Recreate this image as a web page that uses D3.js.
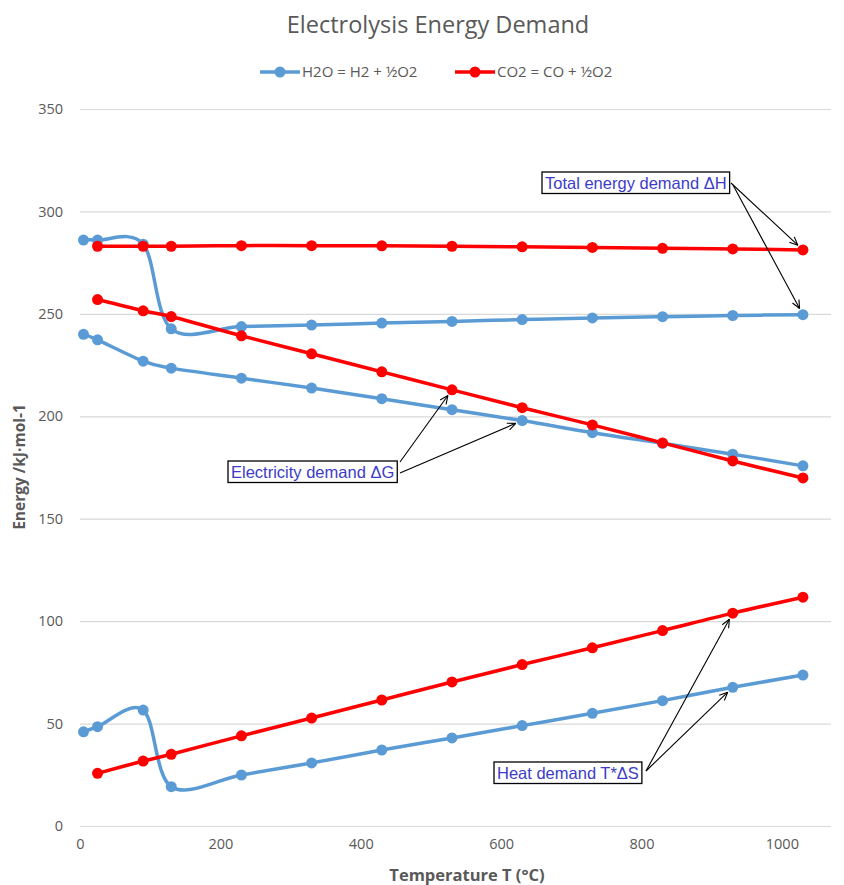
<!DOCTYPE html>
<html>
<head>
<meta charset="utf-8">
<script src="https://cdn.jsdelivr.net/npm/d3@7"></script>
<style>
  body { margin: 0; background: #fff; }
  svg { display: block; }
</style>
</head>
<body>
<svg id="chart" width="844" height="885"></svg>
<script>
// Temperatures (°C) at which each reaction was evaluated
const h2oTemp = [5, 25, 90, 130, 230, 330, 430, 530, 630, 730, 830, 930, 1030];
const co2Temp = [25, 90, 130, 230, 330, 430, 530, 630, 730, 830, 930, 1030];

// H2O = H2 + ½O2 (kJ/mol)
const h2oDH  = [286, 286, 284, 242.7, 243.8, 244.5, 245.5, 246.3, 247.2, 248, 248.6, 249.2, 249.6];
const h2oDG  = [240, 237.3, 226.9, 223.5, 218.6, 213.8, 208.6, 203.2, 197.9, 192, 186.8, 181.5, 175.8];
const h2oTdS = [46, 48.5, 56.6, 19.2, 24.9, 30.8, 37.1, 43, 49, 55, 61.2, 67.7, 73.7];

// CO2 = CO + ½O2 (kJ/mol)
const co2DH  = [283, 283, 283, 283.3, 283.3, 283.2, 283, 282.7, 282.4, 282, 281.7, 281.2];
const co2DG  = [257, 251.5, 248.7, 239.3, 230.5, 221.7, 212.9, 204.2, 195.8, 187, 178.2, 169.9];
const co2TdS = [25.7, 31.7, 35, 44, 52.7, 61.5, 70.3, 78.8, 87, 95.4, 103.9, 111.7];

const xTicks = [0, 200, 400, 600, 800, 1000];
const yTicks = [0, 50, 100, 150, 200, 250, 300, 350];

const seriesNames = ["H2O = H2 + ½O2", "CO2 = CO + ½O2"];
const seriesColors = ["#5b9bd5", "#ff0000"];

const svg = d3.select("#chart");
const W = 844, H = 885;
const plot = { left: 80, right: 831, top: 109, bottom: 826 };

svg.append("rect").attr("width", W).attr("height", H).attr("fill", "#fff");

const x = d3.scaleLinear().domain([0, 1070]).range([plot.left, plot.right]);
const y = d3.scaleLinear().domain([0, 350]).range([plot.bottom, plot.top]);

const axisFont = "'Open Sans', 'DejaVu Sans', sans-serif";
const grey = "#595959";

// Horizontal gridlines + y labels
const yAxis = d3.axisLeft(y).tickValues(yTicks).tickSize(-(plot.right - plot.left)).tickPadding(17);
const gy = svg.append("g").attr("transform", `translate(${plot.left},0)`).call(yAxis);
gy.select(".domain").remove();
gy.selectAll(".tick line").attr("stroke", "#d9d9d9").attr("stroke-width", 1.2);
gy.selectAll(".tick text").attr("fill", grey).attr("font-family", axisFont).attr("font-size", 14.5);

// X labels
const xAxis = d3.axisBottom(x).tickValues(xTicks).tickSize(0).tickPadding(13).tickFormat(d3.format("d"));
const gx = svg.append("g").attr("transform", `translate(0,${plot.bottom})`).call(xAxis);
gx.select(".domain").remove();
gx.selectAll(".tick text").attr("fill", grey).attr("font-family", axisFont).attr("font-size", 14.5);

// Title
svg.append("text").attr("x", 438).attr("y", 33).attr("text-anchor", "middle")
  .attr("font-family", axisFont).attr("font-size", 23.5).attr("fill", grey)
  .text("Electrolysis Energy Demand");

// Axis titles
svg.append("text").attr("x", 467).attr("y", 881).attr("text-anchor", "middle")
  .attr("font-family", axisFont).attr("font-size", 16.5).attr("font-weight", "bold").attr("fill", grey)
  .text("Temperature T (°C)");
svg.append("text").attr("transform", "translate(25,467) rotate(-90)").attr("text-anchor", "middle")
  .attr("font-family", axisFont).attr("font-size", 15.5).attr("font-weight", "bold").attr("fill", grey)
  .text("Energy /kJ·mol-1");

// Data series
const line = d3.line().x(d => x(d[0])).y(d => y(d[1])).curve(d3.curveCardinal.tension(0));
const groups = [
  { temps: h2oTemp, sets: [h2oDH, h2oDG, h2oTdS], color: seriesColors[0] },
  { temps: co2Temp, sets: [co2DH, co2DG, co2TdS], color: seriesColors[1] }
];
groups.forEach(g => {
  const layer = svg.append("g");
  g.sets.forEach(vals => {
    const pts = g.temps.map((t, i) => [t, vals[i]]);
    layer.append("path").attr("d", line(pts)).attr("fill", "none")
      .attr("stroke", g.color).attr("stroke-width", 3.5).attr("stroke-linejoin", "round");
    layer.selectAll(null).data(pts).enter().append("circle")
      .attr("cx", d => x(d[0])).attr("cy", d => y(d[1])).attr("r", 5.5).attr("fill", g.color);
  });
});

// Legend
const legend = svg.append("g");
const legendX = [260, 455];
seriesNames.forEach((name, i) => {
  const lx = legendX[i], ly = 72;
  legend.append("line").attr("x1", lx).attr("x2", lx + 40).attr("y1", ly).attr("y2", ly)
    .attr("stroke", seriesColors[i]).attr("stroke-width", 3.5);
  legend.append("circle").attr("cx", lx + 20).attr("cy", ly).attr("r", 5.5).attr("fill", seriesColors[i]);
  legend.append("text").attr("x", lx + 42).attr("y", ly + 5).attr("font-family", axisFont)
    .attr("font-size", 15).attr("fill", grey).text(name);
});

// Annotations: text boxes with arrows pointing at data markers
const annFont = "'Liberation Sans', Arial, sans-serif";
const annotations = [
  { text: "Total energy demand ΔH", box: [542, 172], targets: [
      { from: [731, 183], temps: co2Temp, vals: co2DH, i: 11 },
      { from: [733, 185], temps: h2oTemp, vals: h2oDH, i: 12 } ] },
  { text: "Electricity demand ΔG", box: [228, 461], targets: [
      { from: [400, 462], temps: co2Temp, vals: co2DG, i: 6 },
      { from: [400, 473], temps: h2oTemp, vals: h2oDG, i: 8 } ] },
  { text: "Heat demand T*ΔS", box: [494, 762], targets: [
      { from: [646, 771], temps: co2Temp, vals: co2TdS, i: 10 },
      { from: [646, 771], temps: h2oTemp, vals: h2oTdS, i: 11 } ] }
];

annotations.forEach(a => {
  const g = svg.append("g");
  const rect = g.append("rect");
  const t = g.append("text").attr("x", a.box[0] + 3).attr("y", a.box[1] + 16.5)
    .attr("font-family", annFont).attr("font-size", 16.5).attr("fill", "#3c3cc8").text(a.text);
  const w = t.node().getComputedTextLength() + 6;
  rect.attr("x", a.box[0]).attr("y", a.box[1]).attr("width", w).attr("height", 21.5)
    .attr("fill", "#fff").attr("stroke", "#000").attr("stroke-width", 1.3);
  a.targets.forEach(tg => {
    const tx = x(tg.temps[tg.i]), ty = y(tg.vals[tg.i]);
    const [fx, fy] = tg.from;
    const ang = Math.atan2(ty - fy, tx - fx);
    const ex = tx - Math.cos(ang) * 7, ey = ty - Math.sin(ang) * 7;
    g.append("line").attr("x1", fx).attr("y1", fy).attr("x2", ex).attr("y2", ey)
      .attr("stroke", "#000").attr("stroke-width", 1.1);
    const hl = 9, spread = 0.42;
    [ang + Math.PI - spread, ang + Math.PI + spread].forEach(b => {
      g.append("line").attr("x1", ex).attr("y1", ey)
        .attr("x2", ex + Math.cos(b) * hl).attr("y2", ey + Math.sin(b) * hl)
        .attr("stroke", "#000").attr("stroke-width", 1.1);
    });
  });
});
</script>
</body>
</html>
